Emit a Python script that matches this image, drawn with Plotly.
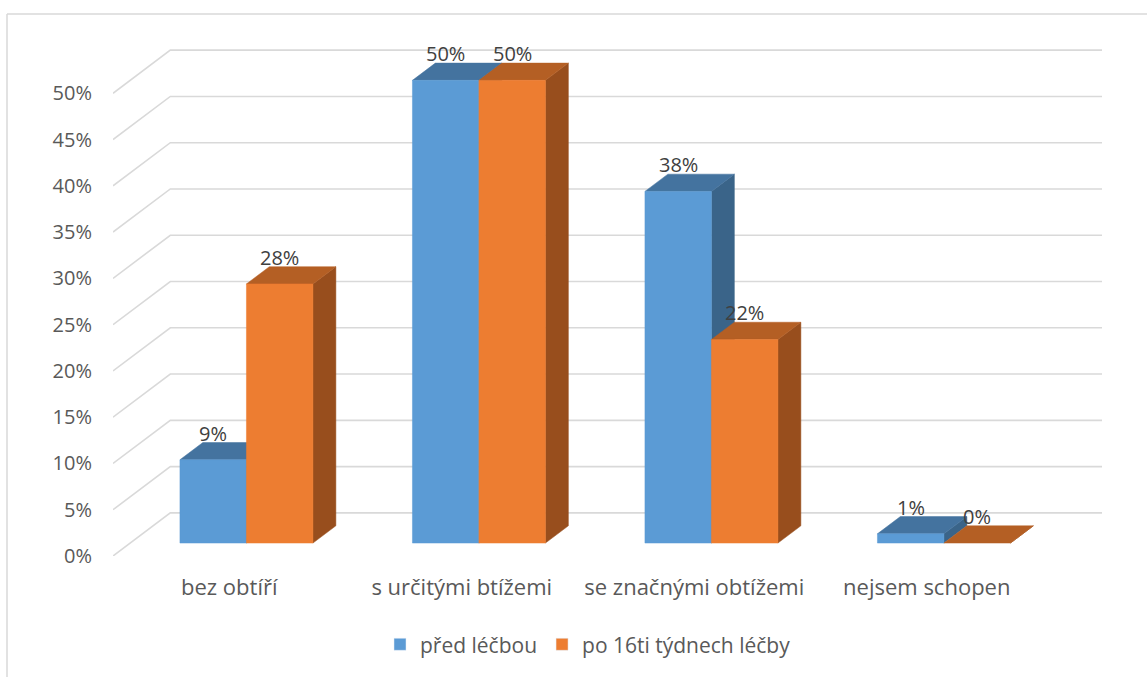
import plotly.graph_objects as go

# ---- data ----
categories = ["bez obtíří", "s určitými btížemi", "se značnými obtížemi", "nejsem schopen"]
series_names = ["před léčbou", "po 16ti týdnech léčby"]
pred_lecbou = [9, 50, 38, 1]
po_16_tydnech = [28, 50, 22, 0]
y_ticks = [0, 5, 10, 15, 20, 25, 30, 35, 40, 45, 50]

# ---- styling / geometry ----
W, H = 1147, 677
L, R, T, B = 113, 45, 40, 119
U = 232.5          # px per category unit
P = 9.29           # px per percent
DX = 57.3 / U      # full depth, x (category units)
DY = 43.3 / P      # full depth, y (percent)
F_FRONT, F_BACK = 0.3, 0.7
BW = 66.5 / U      # bar width
XMIN = -0.5
XMAX = XMIN + (W - L - R) / U
YMAX = (H - B - T) / P

colors = {
    0: dict(front="#5B9BD5", top="#44739F", side="#3A6489"),
    1: dict(front="#ED7D31", top="#B45F24", side="#984E1D"),
}
FONT = "Open Sans"

fig = go.Figure()

# gridlines (front diagonal + back wall horizontal)
for v in y_ticks:
    fig.add_trace(go.Scatter(
        x=[XMIN, XMIN + DX, XMAX], y=[v, v + DY, v + DY], mode="lines",
        line=dict(color="#D9D9D9", width=1.6), hoverinfo="skip", showlegend=False))

dxf, dyf = F_FRONT * DX, F_FRONT * DY
bdx, bdy = (F_BACK - F_FRONT) * DX, (F_BACK - F_FRONT) * DY

annotations = []
for i, cat in enumerate(categories):
    for s, vals in enumerate([pred_lecbou, po_16_tydnech]):
        v = vals[i]
        xl = i + dxf - BW + s * BW
        xr = xl + BW
        y0 = dyf
        y1 = v + dyf
        c = colors[s]
        # side face
        fig.add_trace(go.Scatter(
            x=[xr, xr + bdx, xr + bdx, xr, xr], y=[y0, y0 + bdy, y1 + bdy, y1, y0],
            fill="toself", fillcolor=c["side"], mode="lines",
            line=dict(color=c["side"], width=0.5), hoverinfo="skip", showlegend=False))
        # top face
        fig.add_trace(go.Scatter(
            x=[xl, xr, xr + bdx, xl + bdx, xl], y=[y1, y1, y1 + bdy, y1 + bdy, y1],
            fill="toself", fillcolor=c["top"], mode="lines",
            line=dict(color=c["top"], width=0.5), hoverinfo="skip", showlegend=False))
        # front face
        if v > 0:
            fig.add_trace(go.Scatter(
                x=[xl, xr, xr, xl, xl], y=[y0, y0, y1, y1, y0],
                fill="toself", fillcolor=c["front"], mode="lines",
                line=dict(color=c["front"], width=0.5), hoverinfo="skip", showlegend=False))
        annotations.append(dict(
            x=(xl + xr) / 2, y=y1 + bdy, xref="x", yref="y", text=f"{v}%",
            showarrow=False, yanchor="bottom", xanchor="center", yshift=-6,
            font=dict(family=FONT, size=20, color="#404040")))

# legend entries
for s, name in enumerate(series_names):
    fig.add_trace(go.Bar(x=[None], y=[None], name=name, marker_color=colors[s]["front"]))

px2px = lambda px: (px - L) / (W - L - R)
py2py = lambda py: (H - B - py) / (H - B - T)

fig.update_layout(
    width=W, height=H,
    margin=dict(l=L, r=R, t=T, b=B, pad=0),
    paper_bgcolor="white", plot_bgcolor="white",
    font=dict(family=FONT, size=20, color="#595959"),
    xaxis=dict(range=[XMIN, XMAX], tickvals=list(range(len(categories))), ticktext=categories,
               showgrid=False, zeroline=False, showline=False, ticks="",
               ticklabelstandoff=16, tickfont=dict(family=FONT, size=22, color="#595959"),
               fixedrange=True),
    yaxis=dict(range=[0, YMAX], tickvals=y_ticks, ticktext=[f"{t}%" for t in y_ticks],
               showgrid=False, zeroline=False, showline=False, ticks="",
               ticklabelstandoff=20, tickfont=dict(family=FONT, size=20, color="#595959"),
               fixedrange=True),
    showlegend=True,
    legend=dict(orientation="h", x=px2px(588), xanchor="center", y=py2py(647), yanchor="middle",
                itemwidth=30, tracegroupgap=0,
                font=dict(family=FONT, size=21, color="#595959"), itemclick=False),
    annotations=annotations,
    shapes=[
        dict(type="line", xref="paper", yref="paper", x0=px2px(7), x1=px2px(1160),
             y0=py2py(14), y1=py2py(14), line=dict(color="#D9D9D9", width=1.5)),
        dict(type="line", xref="paper", yref="paper", x0=px2px(7), x1=px2px(7),
             y0=py2py(14), y1=py2py(690), line=dict(color="#D9D9D9", width=1.5)),
    ],
)

fig.write_html("out.html")
